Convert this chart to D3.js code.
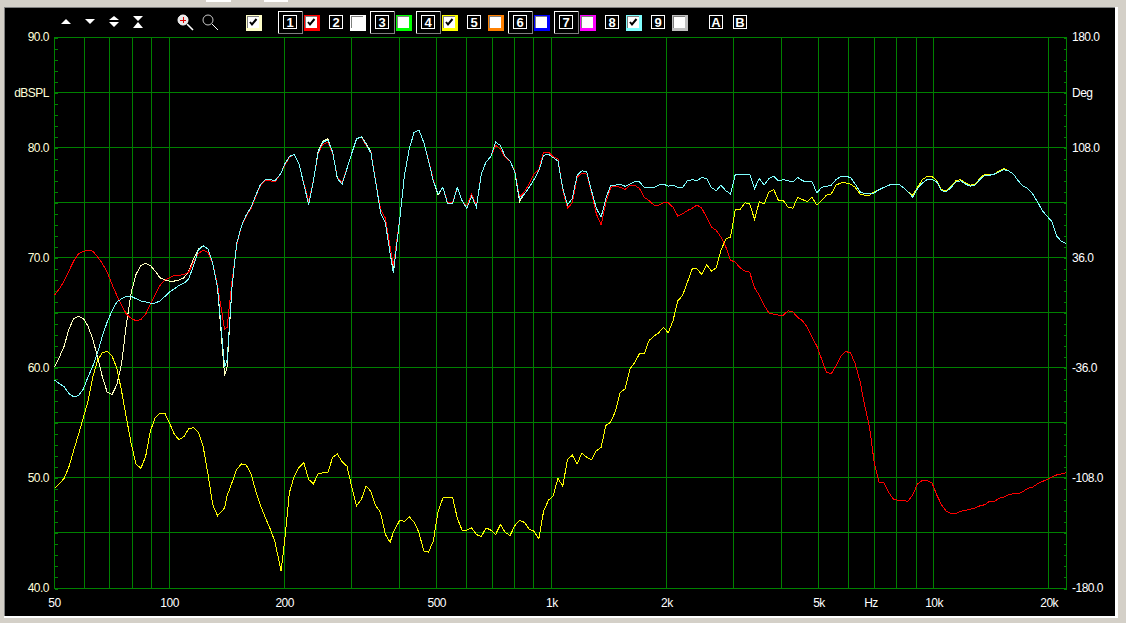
<!DOCTYPE html>
<html lang="en">
<head>
	<meta charset="utf-8">
	<title>Frequency response</title>
	<script src="https://d3js.org/d3.v7.min.js"></script>
	<style type="text/css">
		html, body{ margin: 0; padding: 0; background-color: #d4d0c8; overflow: hidden; }
		svg{ display: block; }
		text{ font-family: "Liberation Sans", sans-serif; font-size: 12px; }
		.label text, text.label{ letter-spacing: -0.5px; }
		.curve{ fill: none; stroke-width: 1; shape-rendering: crispEdges; }
		.grid line{ stroke: #008000; stroke-width: 1; shape-rendering: crispEdges; }
		.axis path{ display: none; }
		.axis line{ stroke: #008000; shape-rendering: crispEdges; }
	</style>
</head>

<body>
	<svg id="chart" width="1126" height="623"></svg>

	<script type="text/javascript">

	// One row per octave, shared by all curves (Hz)
	var freqs = [
		50,51.5,53,54.5,56.1,57.8,59.5,61.2,63,64.8,66.7,68.7,70.7,72.8,74.9,77.1,79.4,81.7,84.1,86.6,89.1,91.7,94.4,97.2,
		100,102.9,105.9,109.1,112.2,115.5,118.9,122.4,126,129.7,133.5,139.3,141.4,145.6,149.8,154.2,158.7,163.4,168.2,173.1,178.2,183.4,188.8,195.7,
		200,205.8,211.9,218.1,224.5,231.1,237.8,244.8,252,259.4,267,274.8,282.8,291.1,299.7,308.4,317.5,326.8,336.4,346.2,356.4,366.8,377.5,385,
		400,411.6,423.8,436.2,449,462.2,475.7,489.6,504,518.7,533.9,549.6,565.7,582.3,599.3,616.9,635,653.6,672.7,692.4,712.7,733.6,755.1,777.2,
		800,823.2,847.6,872.4,898,924.4,951.4,979.2,1008,1037.4,1067.8,1099.2,1131.4,1164.6,1198.6,1233.8,1270,1307.2,1345.4,1384.8,1425.4,1467.2,1510.2,1554.4,
		1600,1646.4,1695.2,1744.8,1796,1848.8,1902.8,1958.4,2016,2074.8,2135.6,2198.4,2262.8,2329.2,2397.2,2467.6,2540,2614.4,2690.8,2769.6,2850.8,2934.4,3020.4,3108.8,
		3200,3293,3390,3490,3592,3698,3806,3917,4032,4150,4271,4397,4525,4658,4794,4935,5080,5229,5382,5539,5702,5869,6041,6218,
		6400,6586,6781,6979,7184,7395,7611,7834,8063,8299,8542,8793,9051,9316,9589,9870,10159,10457,10763,11078,11403,11738,12082,12435,
		12800,13175,13562,13958,14368,14790,15222,15667,16127,16600,17085,17585,18102,18632,19178,19740,20319,20914,21527,22158
	]

	// dBSPL, same rows as freqs
	var paleCurve = [
		60.1,61,62,63.5,64.5,64.7,64.5,63.8,62.6,61,59.2,57.8,57.6,58.5,60.4,64,66.9,68.5,69.3,69.5,69.3,68.8,68.2,68,
		67.9,67.9,68,68.2,68.8,69.9,70.8,71.1,70.8,69.5,67.3,59.3,60.1,67.3,71.3,72.9,73.9,74.6,75.7,76.7,77.1,77.1,77,77.7,
		78.5,79.2,79.4,78.5,76.7,74.9,77,79.7,80.6,80.8,79.6,77.2,76.8,78.1,79.5,80.8,81,80.4,79.6,76.9,74.1,73.2,70.4,68.8,
		73.5,77.5,79.9,81.4,81.6,80.5,78.8,77,75.7,76.4,74.9,74.9,76.4,75.2,74.5,75.6,74.6,77.6,78.7,79.2,80.5,80.2,79.2,78.8,
		77.8,75.1,75.8,76.4,77.1,77.9,79.3,79.4,79.1,78.8,76.3,74.8,75.4,77.5,77.9,77.8,76.1,74.5,73.7,75.4,76.6,76.6,76.7,76.5,
		76.7,76.9,76.9,76.4,76.4,76.4,76.6,76.7,76.5,76.6,76.4,76.4,77,77.1,77,77.3,77.2,76.4,76.1,76.6,76.1,75.8,77.6,77.6,
		77.6,77.6,76.3,77.2,76.6,77.2,77.4,77,77.1,77,76.9,77.3,77,76.9,76.9,75.9,76.4,76.5,76.6,77.1,77.4,77.4,77.3,76.7,
		76,75.8,75.8,75.9,76.2,76.4,76.6,76.7,76.7,76.4,76,75.5,76.3,76.8,77.1,77.1,76.9,76.1,76,76.4,76.9,77,76.7,76.5,
		76.6,77.1,77.5,77.5,77.6,77.8,78,77.9,77.6,77,76.5,76.3,75.8,75.1,74.3,73.8,73.3,72,71.5,71.3
	]
	var redCurve = [
		66.6,67.2,67.9,68.8,69.7,70.4,70.6,70.7,70.6,70.1,69.5,68.7,67.6,66.6,65.7,64.9,64.5,64.3,64.4,64.9,65.8,66.7,67.5,68,
		68.2,68.4,68.4,68.5,68.7,69.6,70.4,70.7,70.5,69.5,67.5,63.5,63.7,67.8,71.1,72.9,73.8,74.5,75.6,76.6,77,77,76.9,77.7,
		78.4,79.1,79.4,78.5,76.8,75.1,77,79.5,80.3,80.5,79.5,77.3,76.8,78.1,79.5,80.8,81,80.2,79.6,76.9,74.4,73.6,71,69.3,
		73.5,77.5,79.9,81.4,81.6,80.5,78.9,77.1,75.8,76.4,75,75,76.4,75.2,74.7,75.8,74.7,77.6,78.7,79.2,80.2,79.9,79.1,78.8,
		77.9,75.5,76,76.7,77.6,78,79.6,79.6,79.2,79,76.2,74.5,75,77.3,77.7,77.6,75.9,74,73,75,76.4,76.5,76.4,76.2,
		76.6,76.6,76.3,75.5,75.2,74.8,74.8,75,75,74.6,73.8,74,74.3,74.5,74.8,74.5,73.7,72.8,72.5,71.9,71,69.8,69.6,69.1,
		68.8,68.7,67.3,66.6,65.7,65,64.9,64.8,64.8,65.2,65.1,64.6,64.3,63.7,62.8,62,60.8,59.6,59.5,60.2,61.1,61.5,61.4,60.4,
		58.8,56.6,54.6,51.3,49.6,49.6,48.7,48.1,48,48,47.9,48.5,49.5,49.8,49.8,49.6,48.5,47.6,47,46.8,46.8,47,47.1,47.2,
		47.3,47.5,47.6,47.9,47.9,48.2,48.3,48.5,48.6,48.6,48.8,49.1,49.2,49.5,49.7,49.9,50.1,50.3,50.4,50.5
	]
	var yellowCurve = [
		49.1,49.5,50,51,52.5,54,55.5,57,59.2,60.7,61.4,61.5,61.1,60,57.9,55.5,53.1,51.3,50.9,52,54.3,55.5,55.9,55.9,
		55,54,53.5,53.8,54.5,54.6,54.2,52.9,50.4,47.6,46.6,47.3,48.4,49.6,50.8,51.3,51.2,50.4,48.8,47.5,46.4,45.4,44.2,41.6,
		44.3,48.7,50.2,51,51.4,49.9,49.5,50.4,50.5,50.5,51.9,52.2,51.5,51.1,49.2,47.5,48.1,49.3,48.8,47.5,46.9,44.9,44.2,45.1,
		46.2,46.1,46.5,46,45.1,43.4,43.3,44.3,47,48.2,48.3,48.3,46.4,45.3,45.3,45.5,44.9,44.7,45.5,45.3,44.9,45.8,45.1,44.8,
		45.7,46.2,46,45.4,45.2,44.5,47,48,48.4,50,49.3,51.7,52.1,51.3,52.3,51.9,51.7,52.5,52.8,54.8,55.1,56.1,57.8,58.1,
		59.9,60.5,61.3,61.3,62.5,62.9,63.2,63.7,63.2,64.3,66.1,66.6,67.8,69,69,68.5,69.4,68.8,69.1,70.7,71.7,71.9,74.4,74.4,
		75,74.9,73.5,75.1,74.9,76,76.2,75.2,75.2,74.6,74.5,75.5,75.3,75.1,75.5,74.8,75.2,75.7,75.8,76.6,76.8,76.8,76.7,76.4,
		75.8,75.7,75.7,76,76.2,76.4,76.6,76.7,76.7,76.4,76,75.7,76.4,77.1,77.4,77.4,77,76.2,76.1,76.5,77,77.1,76.8,76.6,
		76.7,77.2,77.6,77.6,77.6,77.9,78.1,77.9,77.6,77,76.5,76.3,75.8,75.1,74.3,73.8,73.3,72,71.5,71.3
	]
	var cyanCurve = [
		58.9,58.6,58.3,57.7,57.4,57.5,58.1,59.2,60.2,61.4,62.9,64.2,65.2,66,66.3,66.5,66.5,66.3,66.1,66,65.9,65.9,66.1,66.5,
		66.9,67.2,67.5,67.7,68.1,69.3,70.7,71.1,70.8,69.5,67.3,60.1,60.7,67.3,71.3,72.9,73.9,74.6,75.7,76.7,77.1,77.1,77,77.7,
		78.5,79.2,79.4,78.5,76.7,74.8,77,79.6,80.5,80.7,79.6,77.2,76.7,78.1,79.5,80.8,81,80.3,79.5,76.9,74.1,73.2,70.4,68.6,
		73.5,77.5,79.9,81.4,81.6,80.5,78.8,77,75.8,76.4,74.9,74.9,76.4,75.2,74.5,75.6,74.6,77.6,78.7,79.2,80.5,80.2,79.2,78.8,
		77.8,75.3,75.8,76.4,77.1,77.9,79.3,79.4,79.1,78.8,76.3,74.8,75.4,77.5,77.9,77.8,76.1,74.5,73.7,75.4,76.6,76.6,76.7,76.5,
		76.7,76.9,76.9,76.4,76.4,76.4,76.6,76.7,76.5,76.6,76.4,76.4,77,77.1,77,77.3,77.2,76.4,76.1,76.6,76.1,75.8,77.6,77.6,
		77.6,77.6,76.3,77.2,76.6,77.2,77.4,77,77.1,77,76.9,77.3,77,76.9,76.9,75.9,76.4,76.5,76.6,77.1,77.4,77.4,77.3,76.7,
		76,75.8,75.8,75.9,76.2,76.4,76.6,76.7,76.7,76.4,76,75.5,76.3,76.8,77.1,77.1,76.9,76.1,76,76.4,76.9,77,76.7,76.5,
		76.6,77.1,77.5,77.5,77.6,77.8,78,77.9,77.6,77,76.5,76.3,75.8,75.1,74.3,73.8,73.3,72,71.5,71.3
	]

	// axis labels and grid
	var freqGrid = [60,70,80,90,100,200,300,400,500,600,700,800,900,1000,2000,3000,4000,5000,6000,7000,8000,9000,10000,20000]
	var freqLabels = [50,100,200,500,1000,2000,5000,10000,20000]
	var dbGrid = [45,50,55,60,65,70,75,80,85]
	var dbLabels = [40,50,60,70,80,90]
	var degLabels = [-180,-108,-36,36,108,180]

	// toolbar
	var colorBoxes = ["#ffffc8","#ff0000","#ffffff","#00ff00","#ffff00","#ff8000","#0000ff","#ff00ff","#80ffff","#c0c0c0"]
	var boxChecked = [true,true,false,false,true,false,false,false,true,false]
	var buttonNames = ["1","2","3","4","5","6","7","8","9"]
	var buttonFramed = [true,false,true,true,false,true,true,false,false]

	var curves = [
		{values: paleCurve, color: "#ffffc0"},
		{values: redCurve, color: "#ff0000"},
		{values: yellowCurve, color: "#ffff00"},
		{values: cyanCurve, color: "#80ffff"}
	]

	var svg = d3.select("#chart")

	var left = 54, right = 1066, top_ = 37, bottom = 588

	var x = d3.scaleLog().domain([50, 22200]).range([left, right])
	var y = d3.scaleLinear().domain([40, 90]).range([bottom, top_])
	var yDeg = d3.scaleLinear().domain([-180, 180]).range([bottom, top_])

	// window frame
	svg.append("rect").attr("x", 4).attr("y", 7).attr("width", 1114).attr("height", 611).attr("fill", "#ffffff")
	svg.append("rect").attr("x", 4).attr("y", 7).attr("width", 1111).attr("height", 609).attr("fill", "#808080")
	svg.append("rect").attr("x", 5).attr("y", 8).attr("width", 1110).attr("height", 608).attr("fill", "#000000")
	svg.append("rect").attr("x", 206).attr("y", 0).attr("width", 25).attr("height", 2).attr("fill", "#ffffff")
	svg.append("rect").attr("x", 264).attr("y", 0).attr("width", 24).attr("height", 2).attr("fill", "#ffffff")

	// grid
	var grid = svg.append("g").attr("class", "grid")
	grid.selectAll(".v").data(freqGrid).join("line")
		.attr("x1", d => Math.floor(x(d)) + 0.5).attr("x2", d => Math.floor(x(d)) + 0.5)
		.attr("y1", top_).attr("y2", bottom + 1)
	grid.selectAll(".h").data(dbGrid).join("line")
		.attr("x1", left).attr("x2", right + 1)
		.attr("y1", d => Math.floor(y(d)) + 0.5).attr("y2", d => Math.floor(y(d)) + 0.5)
	grid.append("rect").attr("x", left + 0.5).attr("y", top_ + 0.5)
		.attr("width", right - left).attr("height", bottom - top_)
		.attr("fill", "none").attr("stroke", "#008000").attr("shape-rendering", "crispEdges")

	// 1 dB minor ticks on both sides
	svg.append("g").attr("class", "axis").attr("transform", "translate(" + (left + 0.5) + ",0.5)")
		.call(d3.axisRight(y).tickValues(d3.range(40, 91)).tickSize(3).tickFormat(""))
	svg.append("g").attr("class", "axis").attr("transform", "translate(" + (right + 0.5) + ",0.5)")
		.call(d3.axisLeft(y).tickValues(d3.range(40, 91)).tickSize(3).tickFormat(""))

	// curves
	var line = d3.line()
		.x((d, i) => x(freqs[i]) + 0.5)
		.y(d => y(d) + 0.5)

	svg.append("g").selectAll("path").data(curves).join("path")
		.attr("class", "curve")
		.attr("stroke", d => d.color)
		.attr("d", d => line(d.values))

	// labels
	var leftLabels = svg.append("g").attr("class", "label").attr("transform", "translate(" + left + ",0)")
		.call(d3.axisLeft(y).tickValues(dbLabels).tickSize(0).tickPadding(5).tickFormat(d => d.toFixed(1)))
	leftLabels.select(".domain").remove()
	leftLabels.selectAll("text").attr("fill", "#ffffd8").style("font-size", "12px").style("font-family", "Liberation Sans")

	var rightLabels = svg.append("g").attr("class", "label").attr("transform", "translate(" + (right + 6) + ",0)")
		.call(d3.axisRight(yDeg).tickValues(degLabels).tickSize(0).tickPadding(0).tickFormat(d => d.toFixed(1)))
	rightLabels.select(".domain").remove()
	rightLabels.selectAll("text").attr("fill", "#ffffff").style("font-size", "12px").style("font-family", "Liberation Sans")

	var bottomLabels = svg.append("g").attr("class", "label").attr("transform", "translate(0," + (bottom + 10) + ")")
		.call(d3.axisBottom(x).tickValues(freqLabels).tickSize(0).tickPadding(0)
			.tickFormat(d => d >= 1000 ? (d / 1000) + "k" : d))
	bottomLabels.select(".domain").remove()
	bottomLabels.selectAll("text").attr("fill", "#ffffff").style("font-size", "12px").style("font-family", "Liberation Sans")

	svg.append("text").attr("class", "label").attr("x", 49).attr("y", 96.5).attr("text-anchor", "end").attr("fill", "#ffffd8").text("dBSPL")
	svg.append("text").attr("class", "label").attr("x", 1072).attr("y", 96.5).attr("fill", "#ffffff").text("Deg")
	svg.append("text").attr("class", "label").attr("x", 871).attr("y", 607).attr("text-anchor", "middle").attr("fill", "#ffffff").text("Hz")

	// toolbar icons
	var tools = svg.append("g").attr("fill", "#ffffff")
	tools.append("path").attr("d", "M61 24L66 19L71 24Z")
	tools.append("path").attr("d", "M85 19L95 19L90 24Z")
	tools.append("path").attr("d", "M109 20L114 16L119 20Z M109 22L119 22L114 27Z")
	tools.append("path").attr("d", "M133 16L143 16L138 21Z M133 28L143 28L138 22Z")

	function magnifier(cx, plus) {
		var m = svg.append("g")
		m.append("line").attr("x1", cx + 4).attr("y1", 24).attr("x2", cx + 10).attr("y2", 30)
			.attr("stroke", "#ffffff").attr("stroke-width", plus ? 1.6 : 1)
		m.append("circle").attr("cx", cx).attr("cy", 20).attr("r", 5)
			.attr("fill", plus ? "#e8e8e8" : "none").attr("stroke", plus ? "#ffffff" : "#c8c8c8")
		if (plus) {
			m.append("path").attr("d", "M" + (cx - 3) + " 20.5H" + (cx + 3) + "M" + (cx + 0.5) + " 17V23")
				.attr("stroke", "#e00000").attr("stroke-width", 1)
		}
	}
	magnifier(183, true)
	magnifier(208, false)

	// colour check boxes: 246 then every 46 px from 304
	colorBoxes.forEach(function(c, i) {
		var bx = i == 0 ? 246 : 304 + (i - 1) * 46
		var g = svg.append("g").attr("transform", "translate(" + bx + ",15)").attr("shape-rendering", "crispEdges")
		g.append("rect").attr("width", 16).attr("height", 16).attr("fill", c)
		g.append("rect").attr("x", 1).attr("y", 1).attr("width", 12).attr("height", 12).attr("fill", "#808080")
		g.append("rect").attr("x", 2).attr("y", 2).attr("width", 11).attr("height", 11).attr("fill", "#ffffff")
		if (boxChecked[i]) {
			g.append("path").attr("d", "M4 7L6 9.5L10.5 4").attr("fill", "none").attr("stroke", "#000000")
				.attr("stroke-width", 2).attr("shape-rendering", "auto")
		}
	})

	// number buttons
	buttonNames.forEach(function(n, i) {
		var cx = 290 + i * 46
		var g = svg.append("g").attr("transform", "translate(" + cx + ",0)")
		if (buttonFramed[i]) {
			g.append("path").attr("d", "M-12 33V11.5H12").attr("fill", "none").attr("stroke", "#ffffff").attr("shape-rendering", "crispEdges")
			g.append("path").attr("d", "M-12 33.5H12.5V11").attr("fill", "none").attr("stroke", "#808080").attr("shape-rendering", "crispEdges")
		}
		g.append("rect").attr("x", -6.5).attr("y", 15.5).attr("width", 13).attr("height", 13)
			.attr("fill", "#000000").attr("stroke", "#ffffff").attr("shape-rendering", "crispEdges")
		g.append("text").attr("y", 26.5).attr("text-anchor", "middle").attr("fill", "#ffffff")
			.style("font-size", "13px").style("font-weight", "bold").text(n)
	})
	;["A","B"].forEach(function(n, i) {
		var g = svg.append("g").attr("transform", "translate(" + (716 + i * 24) + ",0)")
		g.append("rect").attr("x", -6.5).attr("y", 15.5).attr("width", 13).attr("height", 13)
			.attr("fill", "#000000").attr("stroke", "#ffffff").attr("shape-rendering", "crispEdges")
		g.append("text").attr("y", 26.5).attr("text-anchor", "middle").attr("fill", "#ffffff")
			.style("font-size", "13px").style("font-weight", "bold").text(n)
	})

	</script>
</body>
</html>
